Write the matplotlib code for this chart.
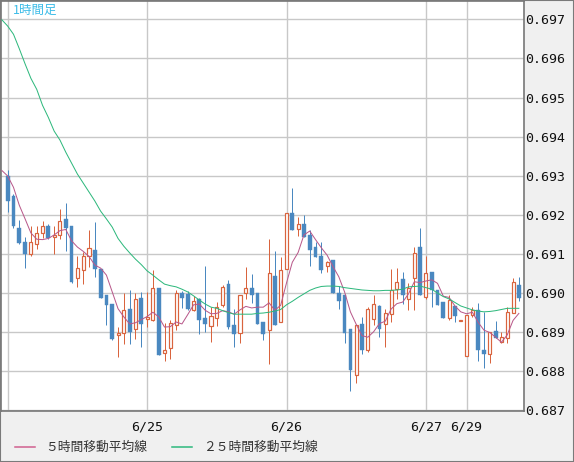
import matplotlib
matplotlib.use('Agg')
import matplotlib.pyplot as plt
from matplotlib.patches import Rectangle
import numpy as np

plt.rcParams['font.family'] = ['Noto Sans CJK JP', 'DejaVu Sans']

# 1時間足 OHLC (6/24 00:00 - 6/29)
opens = [0.69299, 0.69247, 0.69167, 0.69129, 0.69100, 0.69125, 0.69153, 0.69171, 0.69142, 0.69147,
         0.69188, 0.69171, 0.69037, 0.69059, 0.69095, 0.69109, 0.69061, 0.68995, 0.68970, 0.68891,
         0.68896, 0.68958, 0.68906, 0.68986, 0.68932, 0.68930, 0.69012, 0.68845, 0.68858, 0.68917,
         0.68998, 0.68996, 0.68956, 0.68983, 0.68936, 0.68916, 0.68935, 0.68968, 0.69022, 0.68917,
         0.68896, 0.68998, 0.69012, 0.68999, 0.68926, 0.68904, 0.69043, 0.68926, 0.69062, 0.69204,
         0.69164, 0.69176, 0.69148, 0.69117, 0.69095, 0.69068, 0.69083, 0.68998, 0.68993, 0.68907,
         0.68790, 0.68920, 0.68852, 0.68932, 0.68966, 0.68919, 0.68945, 0.69009, 0.69035, 0.68985,
         0.69038, 0.69117, 0.68990, 0.69054, 0.69006, 0.68976, 0.68935, 0.68966, 0.68927, 0.68838,
         0.68943, 0.68956, 0.68853, 0.68842, 0.68902, 0.68875, 0.68884, 0.68947, 0.69020]
highs = [0.69314, 0.69254, 0.69186, 0.69142, 0.69171, 0.69171, 0.69183, 0.69176, 0.69171, 0.69214,
         0.69230, 0.69171, 0.69094, 0.69104, 0.69160, 0.69182, 0.69061, 0.68995, 0.68971, 0.68913,
         0.69000, 0.69007, 0.68998, 0.69002, 0.69003, 0.69058, 0.69012, 0.68923, 0.68930, 0.69007,
         0.69005, 0.69005, 0.68992, 0.68986, 0.69069, 0.68964, 0.68975, 0.69020, 0.69033, 0.68958,
         0.68993, 0.69067, 0.69048, 0.68999, 0.68926, 0.69137, 0.69107, 0.69091, 0.69204, 0.69269,
         0.69194, 0.69199, 0.69160, 0.69130, 0.69130, 0.69080, 0.69083, 0.69018, 0.68993, 0.68907,
         0.68917, 0.68937, 0.68964, 0.68994, 0.68968, 0.68958, 0.69062, 0.69063, 0.69054, 0.69026,
         0.69118, 0.69165, 0.69094, 0.69054, 0.69006, 0.68976, 0.68994, 0.68966, 0.68929, 0.68943,
         0.68963, 0.68973, 0.68951, 0.68900, 0.68928, 0.68899, 0.68964, 0.69038, 0.69041]
lows = [0.69207, 0.69165, 0.69124, 0.69064, 0.69094, 0.69112, 0.69141, 0.69137, 0.69099, 0.69137,
        0.69107, 0.69026, 0.69014, 0.69022, 0.69066, 0.69041, 0.68987, 0.68918, 0.68879, 0.68836,
        0.68868, 0.68868, 0.68881, 0.68860, 0.68912, 0.68928, 0.68840, 0.68825, 0.68830, 0.68905,
        0.68960, 0.68956, 0.68953, 0.68895, 0.68899, 0.68875, 0.68916, 0.68964, 0.68908, 0.68862,
        0.68872, 0.68985, 0.68974, 0.68921, 0.68879, 0.68817, 0.68918, 0.68926, 0.69062, 0.69161,
        0.69146, 0.69142, 0.69069, 0.69092, 0.69051, 0.69054, 0.68998, 0.68959, 0.68872, 0.68747,
        0.68768, 0.68844, 0.68847, 0.68917, 0.68887, 0.68860, 0.68926, 0.68985, 0.68970, 0.68956,
        0.68956, 0.68995, 0.68985, 0.68963, 0.68969, 0.68935, 0.68930, 0.68926, 0.68927, 0.68838,
        0.68937, 0.68825, 0.68807, 0.68819, 0.68883, 0.68872, 0.68872, 0.68947, 0.68979]
closes = [0.69235, 0.69172, 0.69128, 0.69100, 0.69129, 0.69154, 0.69170, 0.69141, 0.69148, 0.69183,
          0.69166, 0.69027, 0.69063, 0.69093, 0.69114, 0.69060, 0.68987, 0.68969, 0.68882, 0.68896,
          0.68955, 0.68900, 0.68984, 0.68919, 0.68937, 0.69012, 0.68840, 0.68853, 0.68922, 0.68998,
          0.68987, 0.68958, 0.68980, 0.68931, 0.68921, 0.68941, 0.68964, 0.69015, 0.68913, 0.68894,
          0.68993, 0.69012, 0.68995, 0.68921, 0.68893, 0.69050, 0.68918, 0.69058, 0.69204, 0.69161,
          0.69175, 0.69142, 0.69110, 0.69092, 0.69057, 0.69078, 0.68998, 0.68980, 0.68898, 0.68801,
          0.68917, 0.68854, 0.68958, 0.68970, 0.68908, 0.68947, 0.69007, 0.69027, 0.68993, 0.69013,
          0.69101, 0.68995, 0.69050, 0.69006, 0.68969, 0.68935, 0.68981, 0.68940, 0.68929, 0.68943,
          0.68956, 0.68852, 0.68842, 0.68899, 0.68883, 0.68887, 0.68950, 0.69027, 0.68987]

# moving averages, from one bar before the first visible candle
ma5 = [0.69313, 0.69299, 0.69270, 0.69224, 0.69189, 0.69153, 0.69137, 0.69136, 0.69139, 0.69148,
       0.69159, 0.69162, 0.69133, 0.69117, 0.69106, 0.69093, 0.69071, 0.69063, 0.69045, 0.69002,
       0.68959, 0.68938, 0.68920, 0.68923, 0.68931, 0.68939, 0.68950, 0.68938, 0.68912, 0.68913,
       0.68925, 0.68920, 0.68944, 0.68969, 0.68971, 0.68955, 0.68946, 0.68947, 0.68954, 0.68951,
       0.68945, 0.68956, 0.68965, 0.68961, 0.68963, 0.68963, 0.68974, 0.68955, 0.68968, 0.69025,
       0.69078, 0.69103, 0.69148, 0.69158, 0.69136, 0.69115, 0.69096, 0.69067, 0.69041, 0.69002,
       0.68951, 0.68919, 0.68890, 0.68886, 0.68900, 0.68921, 0.68927, 0.68958, 0.68972, 0.68976,
       0.68997, 0.69028, 0.69026, 0.69030, 0.69033, 0.69024, 0.68991, 0.68988, 0.68966, 0.68951,
       0.68946, 0.68950, 0.68924, 0.68904, 0.68898, 0.68886, 0.68873, 0.68892, 0.68929, 0.68947]
ma25 = [0.69699, 0.69683, 0.69662, 0.69625, 0.69586, 0.69549, 0.69521, 0.69480, 0.69449, 0.69414,
        0.69391, 0.69360, 0.69332, 0.69304, 0.69281, 0.69258, 0.69235, 0.69209, 0.69189, 0.69168,
        0.69139, 0.69119, 0.69102, 0.69086, 0.69072, 0.69056, 0.69045, 0.69033, 0.69022, 0.69018,
        0.69015, 0.69009, 0.69002, 0.68992, 0.68981, 0.68971, 0.68963, 0.68960, 0.68954, 0.68949,
        0.68945, 0.68945, 0.68945, 0.68945, 0.68947, 0.68948, 0.68950, 0.68953, 0.68957, 0.68969,
        0.68978, 0.68988, 0.68997, 0.69006, 0.69012, 0.69016, 0.69017, 0.69017, 0.69016, 0.69013,
        0.69011, 0.69009, 0.69007, 0.69006, 0.69005, 0.69005, 0.69006, 0.69006, 0.69007, 0.69009,
        0.69015, 0.69016, 0.69017, 0.69013, 0.69009, 0.68999, 0.68990, 0.68984, 0.68975, 0.68966,
        0.68961, 0.68956, 0.68953, 0.68951, 0.68952, 0.68954, 0.68957, 0.68960, 0.68960, 0.68960]

date_pos = [0, 24, 48, 72, 79]
date_labels = ['', '6/25', '6/26', '6/27', '6/29']
price_ticks = [0.687, 0.688, 0.689, 0.690, 0.691, 0.692, 0.693, 0.694, 0.695, 0.696, 0.697]

UP = '#d9643e'
DOWN = '#4a88c0'
px = 0.72  # 1 pixel line

fig = plt.figure(figsize=(5.74, 4.62), dpi=100, facecolor='#f0f0f0')
ax = fig.add_axes([1 / 574, 1 - 411 / 462, 522.5 / 574, 410.5 / 462])
ax.set_facecolor('white')

x = np.arange(len(opens))
o = np.array(opens)
h = np.array(highs)
l = np.array(lows)
c = np.array(closes)
up = c >= o
w = 0.65

# wicks
ax.vlines(x[~up], l[~up], h[~up], color=DOWN, lw=px, zorder=3)
ax.vlines(x[up], l[up], h[up], color=UP, lw=px, zorder=3)
# bodies
ax.bar(x[~up], (o - c)[~up], bottom=c[~up], width=w, color=DOWN, edgecolor=DOWN, lw=0.3, zorder=4)
ax.bar(x[up], (c - o)[up], bottom=o[up], width=w - 0.12, color='white', edgecolor=UP, lw=px * 1.2, zorder=4)

xm = np.arange(-1, len(opens))
ax.plot(xm, ma5, color='#b8588a', lw=px, zorder=5, label='５時間移動平均線')
ax.plot(xm, ma25, color='#2db87c', lw=px, zorder=5, label='２５時間移動平均線')

ax.set_xlim(-1.15, 88.8)
ax.set_ylim(0.68697, 0.697485)

ax.yaxis.tick_right()
ax.set_yticks(price_ticks)
ax.set_yticklabels(['%.3f' % t for t in price_ticks])
ax.set_xticks(date_pos)
ax.set_xticklabels(date_labels)
ax.tick_params(length=0, labelsize=9.5, labelcolor='#111111')
ax.tick_params(axis='y', pad=1.5)
ax.tick_params(axis='x', pad=7)
for lab in ax.get_xticklabels() + ax.get_yticklabels():
    lab.set_family('DejaVu Sans Mono')

ax.grid(True, color='#c8c8c8', lw=1.0)
ax.set_axisbelow(True)
for s in ax.spines.values():
    s.set_color('#777777')
    s.set_linewidth(1.2)

ax.text(12 / 522.5, 0.975, '1時間足', transform=ax.transAxes, color='#3cbce8',
        fontsize=9, ha='left', va='center', zorder=6)

leg = fig.legend(loc='center left', bbox_to_anchor=(15 / 574, 1 - 447.5 / 462), ncol=2,
                 frameon=False, fontsize=9.2, handlelength=1.6, handletextpad=0.8,
                 columnspacing=1.9, borderpad=0, borderaxespad=0)
for t in leg.get_texts():
    t.set_color('#333333')
for ln in leg.get_lines():
    ln.set_linewidth(1.1)
leg.get_lines()[0].set_color('#d0608f')

# outer frame
fig.patches.append(Rectangle((0, 0), 1, 1, transform=fig.transFigure, fill=False,
                             edgecolor='#7a7a7a', lw=1.5))

fig.savefig('out.png', dpi=100, facecolor=fig.get_facecolor())
